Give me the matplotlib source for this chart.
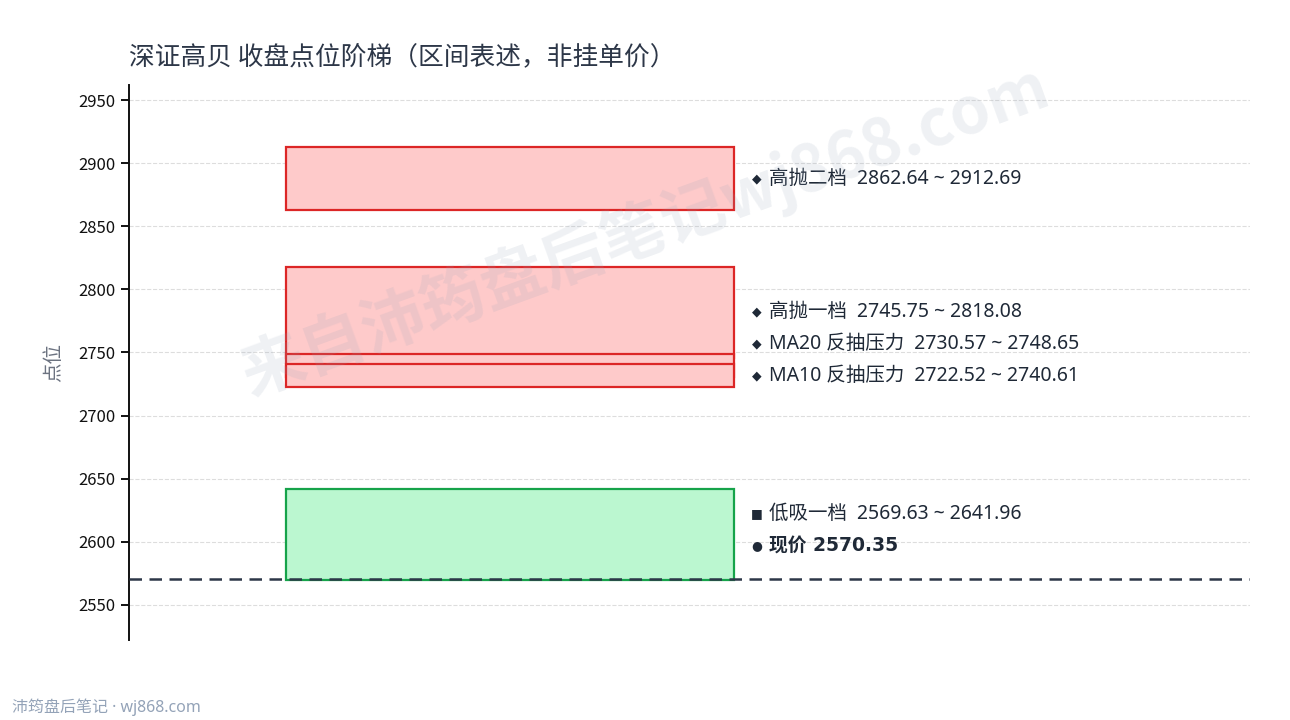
import matplotlib
matplotlib.use('Agg')
import matplotlib.pyplot as plt
from matplotlib.patches import Rectangle

plt.rcParams['font.family'] = ['Noto Sans CJK SC', 'DejaVu Sans']
mixed = ['Noto Sans', 'Noto Sans CJK SC']
mixed_bold = ['DejaVu Sans', 'Noto Sans CJK SC']

# Data: price bands (low, high)
band_names = ['高抛二档', '高抛一档', 'MA20 反抽压力', 'MA10 反抽压力', '低吸一档']
band_low = [2862.64, 2745.75, 2730.57, 2722.52, 2569.63]
band_high = [2912.69, 2818.08, 2748.65, 2740.61, 2641.96]
band_kind = ['sell', 'sell', 'sell', 'sell', 'buy']
current_price = 2570.35
yticks = [2550, 2600, 2650, 2700, 2750, 2800, 2850, 2900, 2950]

fill_col = {'sell': '#fecaca', 'buy': '#bbf7d0'}
edge_col = {'sell': '#dc2626', 'buy': '#16a34a'}
mark_col = {'sell': '◆', 'buy': '■'}

fig = plt.figure(figsize=(12.9, 7.2), dpi=100)
ax = fig.add_axes([0.1, 0.111, 0.869, 0.771])

x0, x1 = 0.14, 0.54
for lo, hi, kind in zip(band_low, band_high, band_kind):
    ax.add_patch(Rectangle((x0, lo), x1 - x0, hi - lo, facecolor=fill_col[kind],
                           edgecolor=edge_col[kind], linewidth=1.6, zorder=2))

ax.axhline(current_price, color='#2d3748', linestyle=(0, (5, 3)), linewidth=1.8, zorder=3)

ax.set_xlim(0, 1)
ax.set_ylim(2522, 2962)
ax.set_yticks(yticks)
ax.set_xticks([])
ax.tick_params(axis='y', labelsize=12, length=6, width=1.4, colors='#111111')
for s in ['top', 'right', 'bottom']:
    ax.spines[s].set_visible(False)
ax.spines['left'].set_linewidth(1.4)
ax.spines['left'].set_color('#111111')
ax.grid(axis='y', color='#dddddd', linestyle='--', linewidth=0.8, zorder=0)
ax.set_axisbelow(True)
ax.set_ylabel('点位', fontsize=14, color='#6b7280', labelpad=10)

# labels, pushed apart so they don't overlap
labels = [('●', '现价 %.2f' % current_price, current_price + 26.3, True)]
for name, lo, hi, kind in zip(band_names, band_low, band_high, band_kind):
    labels.append((mark_col[kind], '%s  %.2f ~ %.2f' % (name, lo, hi), (lo + hi) / 2, False))
labels.sort(key=lambda t: t[2])
gap = 25.3
prev = None
for mk, txt, y, bold in labels:
    if prev is not None and y < prev + gap:
        y = prev + gap
    prev = y
    ax.text(0.5602, y, mk, fontsize=9, color='#1f2937', va='center', ha='center',
            family='DejaVu Sans', zorder=4)
    if bold:
        ax.text(0.5709, y, txt, fontsize=13.5, color='#1f2937', va='center', ha='left',
                family=mixed_bold, fontweight='bold', zorder=4)
    else:
        ax.text(0.5709, y, txt, fontsize=14, color='#1f2937', va='center', ha='left',
                family=mixed, zorder=4)

fig.text(0.1, 0.92, '深证高贝 收盘点位阶梯（区间表述，非挂单价）', fontsize=18.5, color='#2d3748',
         ha='left', va='center')
fig.text(0.009, 0.018, '沛筠盘后笔记 · wj868.com', fontsize=11.5, color='#94a3b8',
         ha='left', va='center', family=mixed)
fig.text(0.5, 0.68, '来自沛筠盘后笔记wj868.com', fontsize=46, fontweight='bold',
         color='#94a3b8', alpha=0.15, rotation=20, ha='center', va='center', zorder=10)

fig.savefig('out.png', dpi=100)
